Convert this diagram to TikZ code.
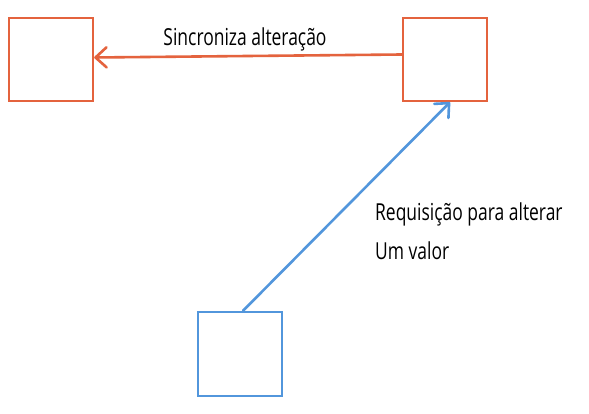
\documentclass[tikz,border=0pt]{standalone}
\usepackage{fontspec}
\setmainfont{Open Sans}
\usetikzlibrary{arrows.meta}
\definecolor{exorange}{RGB}{228,99,62}
\definecolor{exblue}{RGB}{82,150,220}
\tikzset{
  obox/.style={draw=exorange, line width=2.4pt, minimum width=84pt, minimum height=83pt, inner sep=0pt},
  bbox/.style={draw=exblue, line width=2.4pt, minimum width=84pt, minimum height=84pt, inner sep=0pt},
  conn/.style={line width=2.6pt, line cap=round, -{Straight Barb[length=11pt,width=20pt,line width=2.6pt, round]}},
  lbl/.style={font=\fontsize{18}{20}\selectfont, inner sep=0pt, yscale=1.3, xscale=0.97, transform shape}
}
\begin{document}
\begin{tikzpicture}[x=1pt,y=-1pt]
\useasboundingbox[fill=white] (0,0) rectangle (589,414);
\node[obox] (L) at (51,59.5) {};
\node[obox] (R) at (445,59.5) {};
\node[bbox] (B) at (240,354) {};
\draw[conn, exorange] ([yshift=5pt]R.west) -- ([yshift=2pt]L.east);
\draw[conn, exblue] ([xshift=3pt]B.north) -- ([xshift=5pt]R.south);
\node[lbl] (t1) at (245,39) {Sincroniza alteração};
\node[lbl, anchor=west] (t2) at (375,214) {Requisição para alterar};
\node[lbl, anchor=west] (t3) at (375,251) {Um valor};
\end{tikzpicture}
\end{document}
